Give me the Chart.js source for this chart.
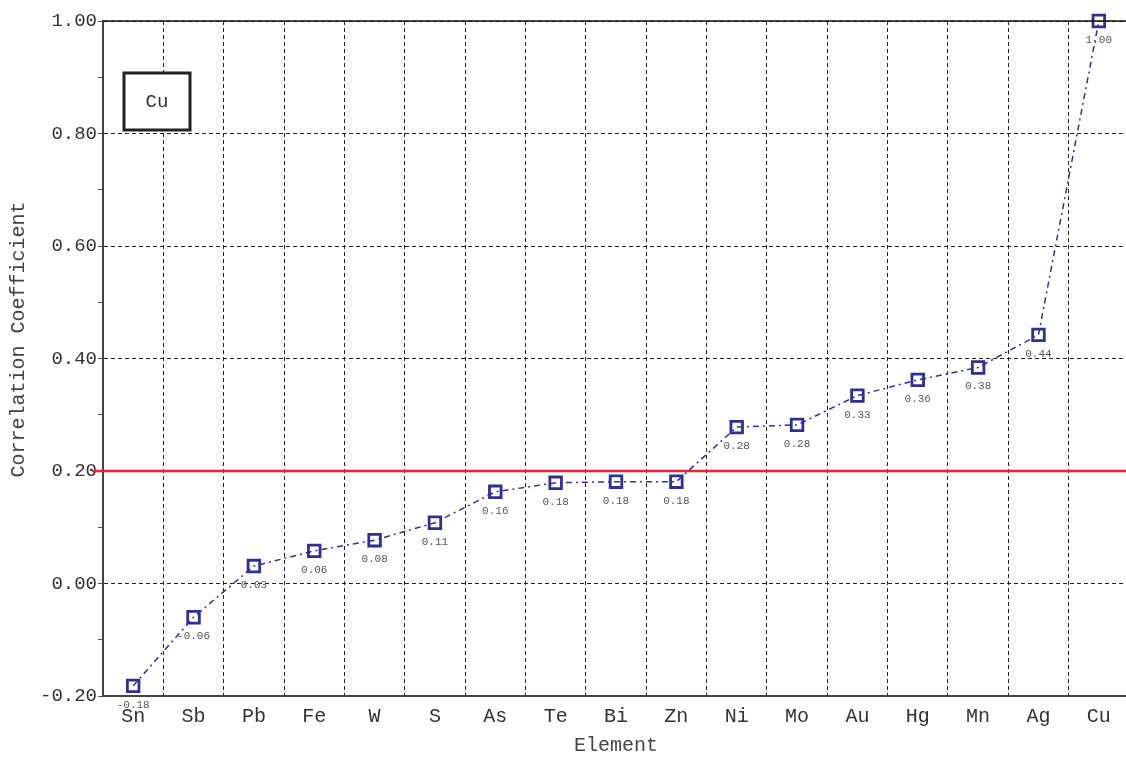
<!DOCTYPE html>
<html>
<head>
<meta charset="utf-8">
<title>Correlation Coefficient by Element</title>
<script src="https://cdn.jsdelivr.net/npm/chart.js@4/dist/chart.umd.min.js"></script>
<style>
  html, body { margin: 0; padding: 0; background: #fff; overflow: hidden; }
  #chart { display: block; }
</style>
</head>
<body>
<canvas id="chart" width="1140" height="759" style="width:1140px;height:759px"></canvas>
<script>
// Elements ordered by their correlation with Cu
const elements = ['Sn', 'Sb', 'Pb', 'Fe', 'W', 'S', 'As', 'Te', 'Bi', 'Zn', 'Ni', 'Mo', 'Au', 'Hg', 'Mn', 'Ag', 'Cu'];
const coefficients = [-0.182, -0.06, 0.031, 0.058, 0.077, 0.108, 0.163, 0.179, 0.181, 0.181, 0.278, 0.282, 0.334, 0.362, 0.384, 0.442, 1.00];
const seriesName = 'Cu';
const yTitle = 'Correlation Coefficient';
const xTitle = 'Element';
const threshold = 0.20;
const yMin = -0.20;
const yMax = 1.00;

const MONO = '"Liberation Mono", "DejaVu Sans Mono", monospace';
const NAVY = '#2e3192';

// Frame, threshold line, value labels, y title and the series name box
const decorations = {
  id: 'decorations',
  beforeDatasetsDraw(chart) {
    const { ctx, chartArea: a, scales: { y } } = chart;
    ctx.save();
    // threshold line
    const ty = y.getPixelForValue(threshold);
    ctx.strokeStyle = '#e3292e';
    ctx.lineWidth = 2.5;
    ctx.beginPath();
    ctx.moveTo(a.left - 11, ty);
    ctx.lineTo(a.right, ty);
    ctx.stroke();
    // value labels under each marker
    const meta = chart.getDatasetMeta(0);
    ctx.font = '11px ' + MONO;
    ctx.fillStyle = '#555';
    ctx.textAlign = 'center';
    ctx.textBaseline = 'middle';
    meta.data.forEach((pt, i) => {
      ctx.fillText(coefficients[i].toFixed(2), pt.x, pt.y + 19);
    });
    ctx.restore();
  },
  afterDraw(chart) {
    const { ctx, chartArea: a } = chart;
    ctx.save();
    // top and right frame
    ctx.strokeStyle = '#111';
    ctx.lineWidth = 1.5;
    ctx.beginPath();
    ctx.moveTo(a.left, a.top);
    ctx.lineTo(a.right, a.top);
    ctx.lineTo(a.right, a.bottom);
    ctx.stroke();
    // y axis title, rotated
    ctx.save();
    ctx.translate(19, (a.top + a.bottom) / 2 - 19);
    ctx.rotate(-Math.PI / 2);
    ctx.font = '20px ' + MONO;
    ctx.fillStyle = '#444';
    ctx.textAlign = 'center';
    ctx.textBaseline = 'middle';
    ctx.fillText(yTitle, 0, 0);
    ctx.restore();
    // series name box
    const bx = a.left + 21, by = a.top + 52, bw = 66, bh = 57;
    ctx.fillStyle = '#fff';
    ctx.fillRect(bx, by, bw, bh);
    ctx.strokeStyle = '#222';
    ctx.lineWidth = 3;
    ctx.strokeRect(bx, by, bw, bh);
    ctx.fillStyle = '#333';
    ctx.font = '19px ' + MONO;
    ctx.textAlign = 'center';
    ctx.textBaseline = 'middle';
    ctx.fillText(chart.data.datasets[0].label, bx + bw / 2, by + bh / 2);
    ctx.restore();
  }
};

new Chart(document.getElementById('chart'), {
  type: 'line',
  data: {
    labels: elements,
    datasets: [{
      label: seriesName,
      data: coefficients,
      borderColor: NAVY,
      borderWidth: 1.5,
      borderDash: [6, 4, 2, 4],
      fill: false,
      tension: 0,
      pointStyle: 'rect',
      pointRadius: 8.2,
      pointBorderWidth: 2.8,
      pointBorderColor: NAVY,
      pointBackgroundColor: 'rgba(0,0,0,0)',
      clip: false
    }]
  },
  options: {
    responsive: false,
    animation: false,
    devicePixelRatio: 1,
    layout: { padding: { left: 0, top: 21, right: 8, bottom: 0 } },
    plugins: {
      legend: { display: false },
      tooltip: { enabled: false }
    },
    scales: {
      x: {
        type: 'category',
        offset: true,
        grid: {
          offset: true,
          color: '#222',
          lineWidth: 1,
          drawTicks: false
        },
        border: { display: true, color: '#444', width: 2, dash: [4, 3] },
        ticks: {
          color: '#333',
          font: { family: MONO, size: 20 },
          padding: 9,
          maxRotation: 0,
          autoSkip: false
        },
        title: {
          display: true,
          text: xTitle,
          color: '#444',
          font: { family: MONO, size: 20 },
          padding: { top: 0, bottom: 1 }
        },
        afterFit(scale) { scale.height = 63; }
      },
      y: {
        min: yMin,
        max: yMax,
        ticks: {
          stepSize: 0.1,
          color: '#333',
          font: { family: MONO, size: 19 },
          padding: 1,
          callback(v) {
            const k = Math.round(v * 10);
            return k % 2 === 0 ? (k / 10).toFixed(2) : '';
          }
        },
        grid: {
          color(ctx) {
            const k = Math.round(ctx.tick.value * 10);
            return k % 2 === 0 ? '#222' : 'rgba(0,0,0,0)';
          },
          tickColor: '#555',
          tickLength: 5,
          lineWidth: 1
        },
        border: { display: true, color: '#444', width: 2, dash: [4, 3] },
        title: { display: false },
        afterFit(scale) { scale.width = 103; }
      }
    }
  },
  plugins: [decorations]
});
</script>
</body>
</html>
